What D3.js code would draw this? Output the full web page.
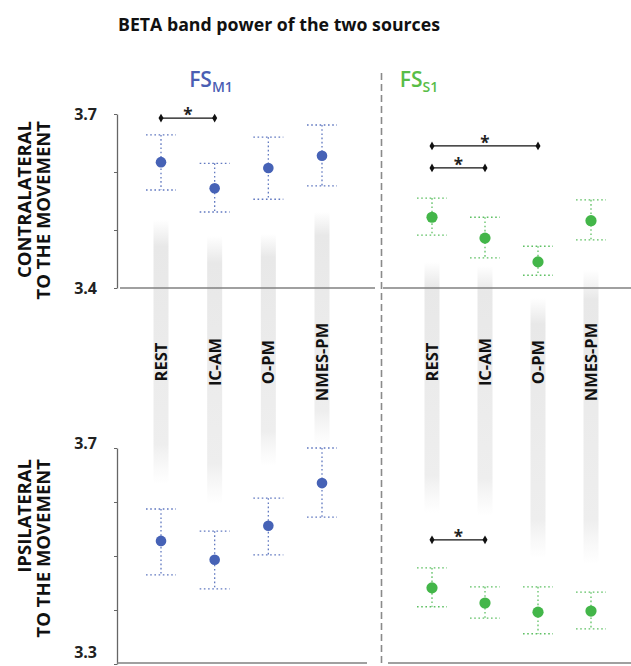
<!DOCTYPE html>
<html>
<head>
<meta charset="utf-8">
<script src="https://cdn.jsdelivr.net/npm/d3@7/dist/d3.min.js"></script>
<style>
  html, body { margin: 0; padding: 0; background: #fff; }
  svg { display: block; font-family: "Open Sans", "DejaVu Sans", sans-serif; }
</style>
</head>
<body>
<svg id="chart" width="631" height="666"></svg>
<script>
// ---------- DATA ----------
const categories = ["REST", "IC-AM", "O-PM", "NMES-PM"];

// Contralateral (top row)
const contraM1Mean  = [3.617, 3.572, 3.607, 3.628];
const contraM1Upper = [3.664, 3.615, 3.660, 3.681];
const contraM1Lower = [3.569, 3.531, 3.553, 3.576];

const contraS1Mean  = [3.522, 3.486, 3.445, 3.516];
const contraS1Upper = [3.555, 3.522, 3.472, 3.552];
const contraS1Lower = [3.491, 3.452, 3.422, 3.483];

// Ipsilateral (bottom row)
const ipsiM1Mean  = [3.528, 3.493, 3.556, 3.635];
const ipsiM1Upper = [3.587, 3.546, 3.607, 3.700];
const ipsiM1Lower = [3.465, 3.439, 3.502, 3.572];

const ipsiS1Mean  = [3.441, 3.413, 3.396, 3.398];
const ipsiS1Upper = [3.478, 3.443, 3.443, 3.433];
const ipsiS1Lower = [3.406, 3.385, 3.356, 3.365];

// Significance brackets: [from, to, level]
const sigContraM1 = [["REST", "IC-AM", 3.693]];
const sigContraS1 = [["REST", "O-PM", 3.645], ["REST", "IC-AM", 3.607]];
const sigIpsiM1 = [];
const sigIpsiS1 = [["REST", "IC-AM", 3.530]];

const topDomain = [3.4, 3.7];
const topTicks = [3.4, 3.5, 3.6, 3.7];
const bottomDomain = [3.3, 3.7];
const bottomTicks = [3.3, 3.4, 3.5, 3.6, 3.7];

// ---------- LAYOUT ----------
const W = 631, H = 666;
const svg = d3.select("#chart");
const blue = "#4662b6", green = "#43b649";

const xLeft = d3.scalePoint().domain(categories).range([161, 322]);
const xRight = d3.scalePoint().domain(categories).range([432, 591]);
const yTop = d3.scaleLinear().domain(topDomain).range([288, 114]);
const yBot = d3.scaleLinear().domain(bottomDomain).range([664, 448]);

// decorative gray stripes behind labels (pixel extents, layout only)
const stripesLeft = [[220, 484], [236, 504], [234, 466], [212, 446]];
const stripesRight = [[262, 513], [266, 516], [298, 558], [270, 564]];

const defs = svg.append("defs");
function stripe(x, y0, y1, id) {
  const g = defs.append("linearGradient").attr("id", id)
    .attr("x1", 0).attr("x2", 0).attr("y1", 0).attr("y2", 1);
  g.append("stop").attr("offset", 0).attr("stop-color", "#e8e8e8").attr("stop-opacity", 0);
  g.append("stop").attr("offset", 0.1).attr("stop-color", "#e8e8e8").attr("stop-opacity", 1);
  g.append("stop").attr("offset", 0.85).attr("stop-color", "#eeeeee").attr("stop-opacity", 1);
  g.append("stop").attr("offset", 1).attr("stop-color", "#f2f2f2").attr("stop-opacity", 0);
  svg.append("rect").attr("x", x - 7.5).attr("width", 15)
    .attr("y", y0).attr("height", y1 - y0).attr("fill", `url(#${id})`);
}
categories.forEach((c, i) => {
  stripe(xLeft(c), stripesLeft[i][0], stripesLeft[i][1], "gl" + i);
  stripe(xRight(c), stripesRight[i][0], stripesRight[i][1], "gr" + i);
});

// Title
svg.append("text").attr("x", 279).attr("y", 31).attr("text-anchor", "middle")
  .attr("font-size", 18.5).attr("font-weight", 700).attr("fill", "#111")
  .attr("textLength", 322).attr("lengthAdjust", "spacingAndGlyphs")
  .text("BETA band power of the two sources");

// Column headers
function header(x, main, sub, color) {
  const t = svg.append("text").attr("x", x).attr("y", 87).attr("text-anchor", "middle")
    .attr("font-size", 21).attr("font-weight", 600).attr("fill", color);
  t.append("tspan").text(main);
  t.append("tspan").attr("font-size", 14).attr("dy", 5).text(sub);
}
header(211, "FS", "M1", "#4a5eb3");
header(419, "FS", "S1", "#58bd47");

// Divider
svg.append("line").attr("x1", 381.5).attr("x2", 381.5).attr("y1", 73).attr("y2", H)
  .attr("stroke", "#8a8a8a").attr("stroke-width", 1.6).attr("stroke-dasharray", "7,4");

// Row labels
function rowLabel(lines, xs, yEnd) {
  lines.forEach((l, i) => {
    svg.append("text").attr("transform", `translate(${xs[i]},${yEnd}) rotate(-90)`)
      .attr("text-anchor", "end").attr("font-size", 18.5).attr("font-weight", 700)
      .attr("fill", "#111").text(l);
  });
}
rowLabel(["CONTRALATERAL", "TO THE MOVEMENT"], [31, 50], 121);
rowLabel(["IPSILATERAL", "TO THE MOVEMENT"], [31, 50], 459);

// Y axes
function yAxis(scale, ticks) {
  const ext = scale.domain();
  const g = svg.append("g").attr("transform", "translate(117,0)")
    .call(d3.axisLeft(scale).tickValues(ticks).tickSize(3).tickSizeOuter(0)
      .tickFormat(d => (d === ext[0] || d === ext[1]) ? d3.format(".1f")(d) : ""));
  g.select(".domain").attr("stroke", "#666").attr("stroke-width", 1.3);
  g.selectAll(".tick line").attr("stroke", "#666");
  g.selectAll(".tick text").attr("font-size", 16).attr("font-weight", 700)
    .attr("fill", "#222").attr("x", -20).attr("font-family", "Open Sans, sans-serif");
  return g;
}
yAxis(yTop, topTicks);
const gb = yAxis(yBot, bottomTicks);
gb.selectAll(".tick text").filter(d => d === bottomDomain[0]).attr("dy", "-0.38em");
gb.selectAll(".tick text").filter(d => d === bottomDomain[1]).attr("dy", "0.05em");

// Horizontal baselines
function hline(x1, x2, y) {
  svg.append("line").attr("x1", x1).attr("x2", x2).attr("y1", y).attr("y2", y)
    .attr("stroke", "#808080").attr("stroke-width", 1.6);
}
hline(120, 375, yTop(topDomain[0]));
hline(383, W, yTop(topDomain[0]));
hline(117, 367, yBot(bottomDomain[0]) - 1);
hline(388, W, yBot(bottomDomain[0]) - 1);

// Category labels (rotated, centered at mid)
[xLeft, xRight].forEach(xs => {
  categories.forEach(c => {
    svg.append("text").attr("transform", `translate(${xs(c) + 6},362) rotate(-90)`)
      .attr("text-anchor", "middle").attr("font-size", 16.5).attr("font-weight", 700)
      .attr("fill", "#111").text(c);
  });
});

// Points with error bars
function points(x, y, mean, up, lo, color, r) {
  const g = svg.append("g");
  const data = categories.map((c, i) => ({ c, m: mean[i], u: up[i], l: lo[i] }));
  const dash = "1.6,2.6";
  g.selectAll(".v").data(data).join("line")
    .attr("x1", d => x(d.c)).attr("x2", d => x(d.c))
    .attr("y1", d => y(d.u)).attr("y2", d => y(d.l))
    .attr("stroke", color).attr("stroke-width", 1.3).attr("stroke-dasharray", dash).attr("opacity", 0.85);
  ["u", "l"].forEach(k => {
    g.selectAll(".c" + k).data(data).join("line")
      .attr("x1", d => x(d.c) - 15).attr("x2", d => x(d.c) + 15)
      .attr("y1", d => y(d[k])).attr("y2", d => y(d[k]))
      .attr("stroke", color).attr("stroke-width", 1.3).attr("stroke-dasharray", dash).attr("opacity", 0.85);
  });
  g.selectAll("circle").data(data).join("circle")
    .attr("cx", d => x(d.c)).attr("cy", d => y(d.m)).attr("r", r).attr("fill", color);
}
points(xLeft, yTop, contraM1Mean, contraM1Upper, contraM1Lower, blue, 5.3);
points(xRight, yTop, contraS1Mean, contraS1Upper, contraS1Lower, green, 5.6);
points(xLeft, yBot, ipsiM1Mean, ipsiM1Upper, ipsiM1Lower, blue, 5.3);
points(xRight, yBot, ipsiS1Mean, ipsiS1Upper, ipsiS1Lower, green, 5.6);

// Significance brackets
function sig(x, y, list) {
  list.forEach(([a, b, v]) => {
    const x1 = x(a), x2 = x(b), yy = y(v);
    svg.append("line").attr("x1", x1).attr("x2", x2).attr("y1", yy).attr("y2", yy)
      .attr("stroke", "#111").attr("stroke-width", 1.3);
    [x1, x2].forEach(xx => {
      svg.append("path").attr("d", d3.symbol(d3.symbolDiamond, 22)())
        .attr("transform", `translate(${xx},${yy})`).attr("fill", "#111");
    });
    svg.append("text").attr("x", (x1 + x2) / 2).attr("y", yy + 3).attr("text-anchor", "middle")
      .attr("font-size", 17).attr("font-weight", 700).attr("fill", "#222").text("*");
  });
}
sig(xLeft, yTop, sigContraM1);
sig(xRight, yTop, sigContraS1);
sig(xLeft, yBot, sigIpsiM1);
sig(xRight, yBot, sigIpsiS1);
</script>
</body>
</html>
